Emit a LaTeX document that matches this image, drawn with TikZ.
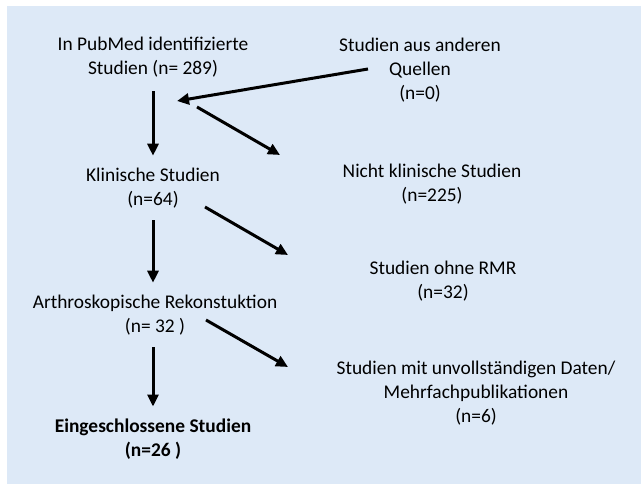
\documentclass[tikz,border=0pt]{standalone}
\usepackage{fontspec}
\setmainfont{Carlito}
\usetikzlibrary{arrows.meta}
\definecolor{panelblue}{HTML}{DDE9F7}

\begin{document}
\begin{tikzpicture}[x=1bp,y=-1bp,
        font=\fontsize{19.4bp}{24bp}\selectfont,
        every node/.style={align=center,inner sep=0pt,text=black},
        arr/.style={-{Triangle[length=12bp,width=11bp]},line width=3bp}]

    \useasboundingbox (0,0) rectangle (641,485);
    \fill[panelblue] (7,6) rectangle (641,484);

    % left column
    \node (pub)  at (153,57)  {In PubMed identifizierte\\Studien (n= 289)};
    \node (klin) at (153,188) {Klinische Studien\\(n=64)};
    \node (arth) at (155,315) {Arthroskopische Rekonstuktion\\(n= 32 )};
    \node (ein)  at (153,439) {\bfseries Eingeschlossene Studien\\\bfseries (n=26 )};

    % right column
    \node (quell)  at (420,70)  {\fontsize{19.4bp}{22bp}\selectfont Studien aus anderen\\Quellen\\(n=0)};
    \node (nicht)  at (432,184) {Nicht klinische Studien\\(n=225)};
    \node (ohne)   at (443,281) {Studien ohne RMR\\(n=32)};
    \node (unvoll) at (476,393) {\fontsize{19.4bp}{20bp}\selectfont Studien mit unvollst\"andigen Daten/\\Mehrfachpublikationen\\(n=6)};

    \coordinate (q1) at (368,69);  \coordinate (q2) at (177,101);
    \coordinate (a1) at (197,107); \coordinate (a2) at (280,155);
    \coordinate (b1) at (205,207); \coordinate (b2) at (288,255);
    \coordinate (c1) at (206,320); \coordinate (c2) at (288,367);

    \draw[arr,shorten <=14bp,shorten >=12bp] (pub) -- (klin);
    \draw[arr,shorten <=12bp,shorten >=12bp] (klin.south) -- (klin.south |- arth.north);
    \draw[arr,shorten <=12bp,shorten >=12bp] (klin.south |- arth.south) -- (ein);

    \draw[arr] (q1) -- (q2);
    \draw[arr] (a1) -- (a2);
    \draw[arr] (b1) -- (b2);
    \draw[arr] (c1) -- (c2);
\end{tikzpicture}
\end{document}
